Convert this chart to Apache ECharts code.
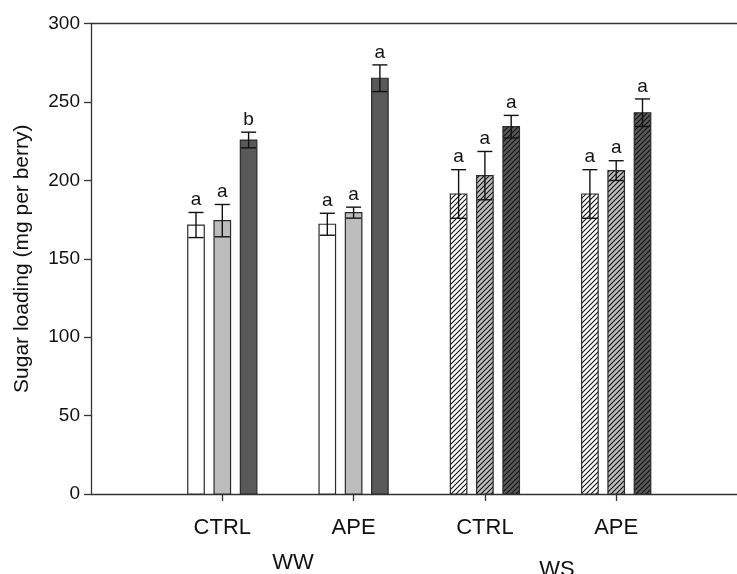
<!DOCTYPE html>
<html>
<head>
<meta charset="utf-8">
<script src="https://cdn.jsdelivr.net/npm/echarts@6/dist/echarts.min.js"></script>
<style>
html,body{margin:0;padding:0;background:#fff;}
#chart{width:737px;height:574px;}
</style>
</head>
<body>
<div id="chart"></div>
<script>
// ---- data ----
const categories = ['CTRL', 'APE', 'CTRL', 'APE'];
const groupLabels = ['WW', 'WS'];
const hatched = [false, false, true, true];
const yTicks = [0, 50, 100, 150, 200, 250, 300];

const lightValues = [171.5, 172.0, 191.3, 191.3];
const lightErrors = [8.0, 7.0, 15.5, 15.5];
const lightLetters = ['a', 'a', 'a', 'a'];

const midValues = [174.3, 179.4, 203.0, 206.2];
const midErrors = [10.3, 3.5, 15.4, 6.3];
const midLetters = ['a', 'a', 'a', 'a'];

const darkValues = [225.7, 265.1, 234.2, 243.1];
const darkErrors = [5.0, 8.5, 7.2, 8.8];
const darkLetters = ['b', 'a', 'a', 'a'];

const yTitle = 'Sugar loading (mg per berry)';

// ---- styling helpers ----
function hatchPattern(bg) {
  const s = 5;
  const c = document.createElement('canvas');
  c.width = s; c.height = s;
  const g = c.getContext('2d');
  g.fillStyle = bg; g.fillRect(0, 0, s, s);
  g.strokeStyle = '#111'; g.lineWidth = 1.1;
  g.beginPath();
  g.moveTo(0, s); g.lineTo(s, 0);
  g.moveTo(-1, 1); g.lineTo(1, -1);
  g.moveTo(s - 1, s + 1); g.lineTo(s + 1, s - 1);
  g.stroke();
  return c;
}

const FONT = '"Liberation Sans", Arial, sans-serif';
const shades = [
  { values: lightValues, errors: lightErrors, letters: lightLetters, color: '#ffffff', offset: -26.3 },
  { values: midValues, errors: midErrors, letters: midLetters, color: '#bdbdbd', offset: 0 },
  { values: darkValues, errors: darkErrors, letters: darkLetters, color: '#595959', offset: 26.3 }
];
const BAR_W = 16.5, CAP_W = 15;

const series = shades.map(function (sh) {
  const pattern = { image: hatchPattern(sh.color), repeat: 'repeat' };
  return {
    type: 'custom',
    xAxisIndex: 0,
    yAxisIndex: 0,
    data: sh.values.map(function (v, i) { return [i + 1, v, sh.errors[i]]; }),
    renderItem: function (params, api) {
      const i = params.dataIndex;
      const xv = api.value(0), v = api.value(1), e = api.value(2);
      const base = api.coord([xv, 0]);
      const top = api.coord([xv, v]);
      const eTop = api.coord([xv, v + e]);
      const eBot = api.coord([xv, v - e]);
      const cx = base[0] + sh.offset;
      const fill = hatched[i] ? pattern : sh.color;
      return {
        type: 'group',
        children: [
          { type: 'rect', shape: { x: cx - BAR_W / 2, y: top[1], width: BAR_W, height: base[1] - top[1] },
            style: { fill: fill, stroke: '#2a2a2a', lineWidth: 1.2 } },
          { type: 'line', shape: { x1: cx, y1: eTop[1], x2: cx, y2: eBot[1] }, style: { stroke: '#111', lineWidth: 1.4 } },
          { type: 'line', shape: { x1: cx - CAP_W / 2, y1: eTop[1], x2: cx + CAP_W / 2, y2: eTop[1] }, style: { stroke: '#111', lineWidth: 1.4 } },
          { type: 'line', shape: { x1: cx - CAP_W / 2, y1: eBot[1], x2: cx + CAP_W / 2, y2: eBot[1] }, style: { stroke: '#111', lineWidth: 1.4 } },
          { type: 'text', x: cx, y: eTop[1] - 3,
            style: { text: sh.letters[i], textAlign: 'center', textVerticalAlign: 'bottom',
                     font: '19px ' + FONT, fill: '#111' } }
        ]
      };
    }
  };
});

const chart = echarts.init(document.getElementById('chart'), null, { renderer: 'canvas' });
chart.setOption({
  backgroundColor: '#ffffff',
  animation: false,
  grid: { left: 91, right: 0, top: 23.5, bottom: 80 },
  xAxis: [{
    type: 'value', min: 0, max: 4.92, interval: 1,
    splitLine: { show: false },
    axisLine: { show: true, lineStyle: { color: '#333', width: 1.3 } },
    axisTick: { show: true, inside: false, length: 7, customValues: [1, 2, 3, 4], lineStyle: { color: '#333', width: 1.3 } },
    axisLabel: { show: true, margin: 23, customValues: [1, 2, 3, 4],
      formatter: function (v) { return categories[Math.round(v) - 1] || ''; },
      fontFamily: FONT, fontSize: 22, color: '#111' }
  }, {
    type: 'value', min: 0, max: 4.92, position: 'top',
    splitLine: { show: false },
    axisLine: { show: true, lineStyle: { color: '#333', width: 1.3 } },
    axisTick: { show: false }, axisLabel: { show: false }
  }],
  yAxis: {
    type: 'value', min: yTicks[0], max: yTicks[yTicks.length - 1], interval: 50,
    splitLine: { show: false },
    axisLine: { show: true, lineStyle: { color: '#333', width: 1.3 } },
    axisTick: { show: true, inside: false, length: 7, lineStyle: { color: '#333', width: 1.3 } },
    axisLabel: { margin: 11, fontFamily: FONT, fontSize: 19, color: '#111' },
    name: yTitle, nameLocation: 'middle', nameGap: 58, nameRotate: 90,
    nameTextStyle: { fontFamily: FONT, fontSize: 21, color: '#111' }
  },
  graphic: [
    { type: 'text', x: 293, y: 563, style: { text: groupLabels[0], textAlign: 'center', textVerticalAlign: 'middle',
      font: '22px ' + FONT, fill: '#111' } },
    { type: 'text', x: 557, y: 570, style: { text: groupLabels[1], textAlign: 'center', textVerticalAlign: 'middle',
      font: '22px ' + FONT, fill: '#111' } }
  ],
  series: series
});
</script>
</body>
</html>
